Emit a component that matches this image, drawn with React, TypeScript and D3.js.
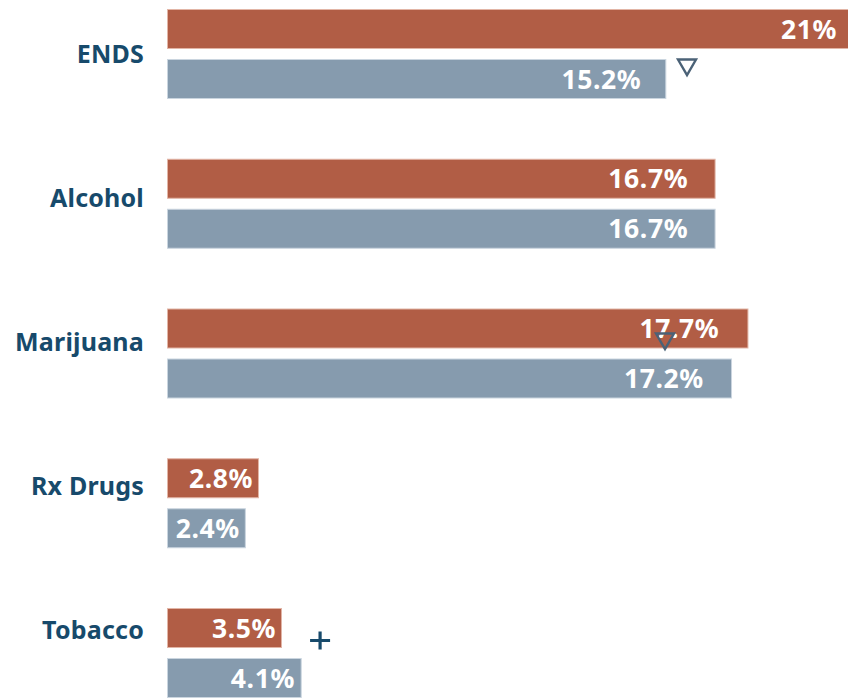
import React from "react";
import * as d3 from "d3";

const categories = ["ENDS", "Alcohol", "Marijuana", "Rx Drugs", "Tobacco"];
const seriesNames = ["Series 1", "Series 2"];
const series1Values = [21, 16.7, 17.7, 2.8, 3.5];
const series2Values = [15.2, 16.7, 17.2, 2.4, 4.1];
const valueLabels1 = ["21%", "16.7%", "17.7%", "2.8%", "3.5%"];
const valueLabels2 = ["15.2%", "16.7%", "17.2%", "2.4%", "4.1%"];

const markerCategories = ["ENDS", "Marijuana", "Tobacco"];
const markerSeries = ["Series 2", "Series 1", "Series 1"];
const markerValues = [15.83, 15.16, 4.66];
const markerSymbols = ["down", "down", "plus"];

const W = 848;
const H = 699;
const RED = "#B15D45";
const RED_EDGE = "#E2B5A6";
const BLUE = "#869BAE";
const BLUE_EDGE = "#CAD5DF";
const NAVY = "#174A6B";
const SLATE = "#4B6277";

export default function App() {
  const x = d3.scaleLinear().domain([0, 20]).range([167, 824]);
  const y = d3
    .scaleBand<string>()
    .domain(categories)
    .range([9, 9 + 5 * 149.75])
    .paddingInner(0)
    .paddingOuter(0);
  const inner = d3
    .scaleBand<string>()
    .domain(seriesNames)
    .range([0, 90])
    .paddingInner(0.2)
    .paddingOuter(0);
  const labelY = d3.scalePoint<string>().domain(categories).range([54, 630]);

  const fills = [RED, BLUE];
  const edges = [RED_EDGE, BLUE_EDGE];
  const valuesBySeries = [series1Values, series2Values];
  const labelsBySeries = [valueLabels1, valueLabels2];
  const bh = inner.bandwidth();

  const markerOffset: Record<string, number> = { "Series 1": 32.5, "Series 2": 8 };

  return (
    <svg
      width={W}
      height={H}
      style={{ position: "absolute", left: 0, top: 0, display: "block" }}
      fontFamily="'Noto Sans', sans-serif"
    >
      <rect x={0} y={0} width={W} height={H} fill="#ffffff" />
      {categories.map((c, i) => (
        <g key={c}>
          {seriesNames.map((s, k) => {
            const v = valuesBySeries[k][i];
            const top = (y(c) ?? 0) + (inner(s) ?? 0);
            const x0 = x(0);
            const x1 = x(v);
            const w = x1 - x0;
            const pad = Math.max(6, w * 0.05);
            const labelX = x1 > W ? W - 11 : x1 - pad;
            return (
              <g key={s}>
                <rect
                  x={x0 + 0.5}
                  y={top + 0.5}
                  width={w - 1}
                  height={bh - 1}
                  fill={fills[k]}
                  stroke={edges[k]}
                  strokeWidth={1}
                />
                <text
                  x={labelX}
                  y={top + bh / 2 + 9.5}
                  textAnchor="end"
                  fill="#ffffff"
                  fontWeight={700}
                  fontSize={26.5}
                  letterSpacing={0.6}
                >
                  {labelsBySeries[k][i]}
                </text>
              </g>
            );
          })}
          <text
            x={144}
            y={(labelY(c) ?? 0) + 9}
            textAnchor="end"
            fill={NAVY}
            fontWeight={700}
            fontSize={25}
            letterSpacing={0.2}
          >
            {c}
          </text>
        </g>
      ))}
      {markerCategories.map((c, j) => {
        const cx = x(markerValues[j]);
        const cy = (y(c) ?? 0) + (inner(markerSeries[j]) ?? 0) + markerOffset[markerSeries[j]];
        if (markerSymbols[j] === "plus") {
          return (
            <path
              key={j}
              d={`M${cx - 10},${cy}H${cx + 10}M${cx},${cy - 9}V${cy + 9}`}
              stroke={NAVY}
              strokeWidth={3.2}
              fill="none"
            />
          );
        }
        return (
          <path
            key={j}
            d={`M${cx - 9},${cy - 7.5}L${cx + 9},${cy - 7.5}L${cx},${cy + 8}Z`}
            stroke={SLATE}
            strokeWidth={2.4}
            strokeLinejoin="miter"
            fill="none"
          />
        );
      })}
    </svg>
  );
}
